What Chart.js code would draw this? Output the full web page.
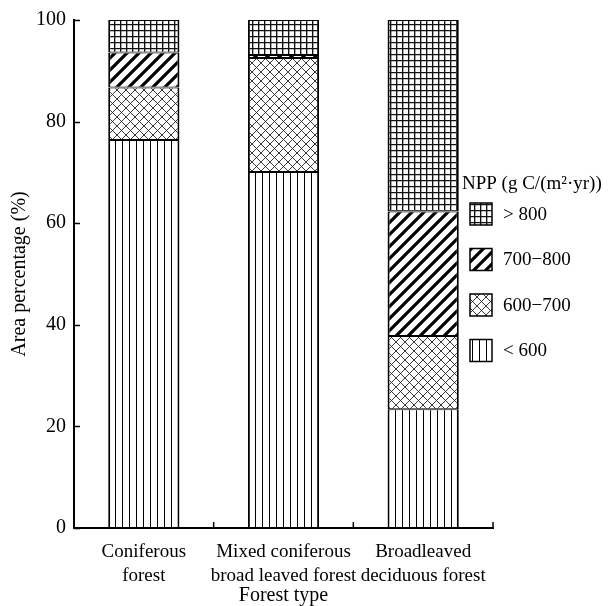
<!DOCTYPE html>
<html>
<head>
<meta charset="utf-8">
<script src="https://cdn.jsdelivr.net/npm/chart.js@4/dist/chart.umd.min.js"></script>
<style>
  html, body { margin: 0; padding: 0; background: #fff; }
  #wrap { width: 609px; height: 606px; }
</style>
</head>
<body>
<div id="wrap"><canvas id="npp"></canvas></div>
<script>
  // Area percentage (%) per NPP class
  var forestTypes = [['Coniferous', 'forest'], ['Mixed coniferous', 'broad leaved forest'], ['Broadleaved', 'deciduous forest']];
  var nppClasses = ['< 600', '600\u2212700', '700\u2212800', '> 800'];
  var below600 = [76.4, 70.1, 23.4];
  var npp600to700 = [10.3, 22.4, 14.4];
  var npp700to800 = [6.9, 0.6, 24.5];
  var above800 = [6.4, 6.9, 37.7];
  var yTicks = [0, 20, 40, 60, 80, 100];

  var FONT = '"Liberation Serif", "Times New Roman", serif';

  function makePattern(size, draw) {
    var c = document.createElement('canvas');
    c.width = size;
    c.height = size;
    var g = c.getContext('2d');
    g.fillStyle = '#fff';
    g.fillRect(0, 0, size, size);
    g.strokeStyle = '#000';
    draw(g, size);
    return g.createPattern(c, 'repeat');
  }

  var patVertical = makePattern(7, function (g, s) {
    g.lineWidth = 1;
    g.beginPath();
    g.moveTo(3.5, 0); g.lineTo(3.5, s);
    g.stroke();
  });
  var patCross = makePattern(9, function (g, s) {
    g.lineWidth = 0.9;
    g.strokeStyle = '#222';
    g.beginPath();
    g.moveTo(0, 0); g.lineTo(s, s);
    g.moveTo(s, 0); g.lineTo(0, s);
    g.stroke();
  });
  var patDiag = makePattern(12, function (g, s) {
    g.lineWidth = 3.2;
    g.beginPath();
    g.moveTo(-s, s); g.lineTo(s, -s);
    g.moveTo(0, s * 2); g.lineTo(s * 2, 0);
    g.moveTo(0, s); g.lineTo(s, 0);
    g.stroke();
  });
  var patGrid = makePattern(6, function (g, s) {
    g.lineWidth = 1.7;
    g.strokeStyle = '#111';
    g.beginPath();
    g.moveTo(0, 0.5); g.lineTo(s, 0.5);
    g.moveTo(0.5, 0); g.lineTo(0.5, s);
    g.stroke();
  });

  var patterns = [patVertical, patCross, patDiag, patGrid];
  var seriesValues = [below600, npp600to700, npp700to800, above800];

  var datasets = nppClasses.map(function (name, i) {
    return {
      label: name,
      data: seriesValues[i],
      backgroundColor: patterns[i],
      borderColor: '#000',
      borderWidth: { left: 2, right: 2, top: 1, bottom: 1 },
      borderSkipped: false,
      barPercentage: 0.51,
      categoryPercentage: 1
    };
  });

  // tick marks pointing into the plot + legend drawn at the right
  var insideTicksAndLegend = {
    id: 'insideTicksAndLegend',
    afterDraw: function (chart) {
      var ctx = chart.ctx;
      var area = chart.chartArea;
      var xs = chart.scales.x;
      var ys = chart.scales.y;
      ctx.save();
      ctx.strokeStyle = '#000';
      ctx.lineWidth = 1.5;
      ctx.beginPath();
      ys.ticks.forEach(function (t) {
        var y = Math.round(ys.getPixelForValue(t.value)) + 0.5;
        ctx.moveTo(area.left, y);
        ctx.lineTo(area.left + 6, y);
      });
      var n = forestTypes.length;
      for (var i = 1; i <= n; i++) {
        var x = i < n ? (xs.getPixelForValue(i - 1) + xs.getPixelForValue(i)) / 2 : area.right;
        ctx.moveTo(x, area.bottom);
        ctx.lineTo(x, area.bottom - 6);
      }
      ctx.stroke();

      // legend
      ctx.fillStyle = '#000';
      ctx.font = '19px ' + FONT;
      ctx.textBaseline = 'middle';
      ctx.textAlign = 'left';
      ctx.fillText('NPP (g C/(m\u00b2\u00b7yr))', 462, 184);
      var ds = chart.data.datasets;
      for (var k = 0; k < ds.length; k++) {
        var d = ds[ds.length - 1 - k];
        var top = 203 + k * 45.5;
        ctx.fillStyle = d.backgroundColor;
        ctx.fillRect(470, top, 22, 22);
        ctx.lineWidth = 1.5;
        ctx.strokeRect(470, top, 22, 22);
        ctx.fillStyle = '#000';
        ctx.fillText(d.label, 503, top + 12);
      }
      ctx.restore();
    }
  };

  new Chart(document.getElementById('npp'), {
    type: 'bar',
    data: { labels: forestTypes, datasets: datasets },
    options: {
      responsive: true,
      maintainAspectRatio: false,
      animation: false,
      layout: { padding: { left: 0, right: 116, top: 20, bottom: 0 } },
      plugins: {
        legend: { display: false },
        tooltip: { enabled: false }
      },
      scales: {
        x: {
          stacked: true,
          grid: { display: false },
          border: { display: true, color: '#000', width: 2 },
          ticks: {
            color: '#000',
            padding: 4,
            maxRotation: 0,
            autoSkip: false,
            font: { family: FONT, size: 19, lineHeight: 1.26 }
          },
          title: {
            display: true,
            text: 'Forest type',
            color: '#000',
            padding: { top: 4, bottom: 0 },
            font: { family: FONT, size: 20, lineHeight: 1.0 }
          },
          afterFit: function (s) { s.height = 78; }
        },
        y: {
          stacked: true,
          min: 0,
          max: 100,
          grid: { display: false, drawTicks: false },
          border: { display: true, color: '#000', width: 2 },
          afterBuildTicks: function (s) {
            s.ticks = yTicks.map(function (v) { return { value: v }; });
          },
          ticks: {
            color: '#000',
            padding: 8,
            font: { family: FONT, size: 20 }
          },
          title: {
            display: true,
            text: 'Area percentage (%)',
            color: '#000',
            padding: { top: 8, bottom: 0 },
            font: { family: FONT, size: 20, lineHeight: 1.2 }
          },
          afterFit: function (s) { s.width = 74; }
        }
      }
    },
    plugins: [insideTicksAndLegend]
  });
</script>
</body>
</html>
